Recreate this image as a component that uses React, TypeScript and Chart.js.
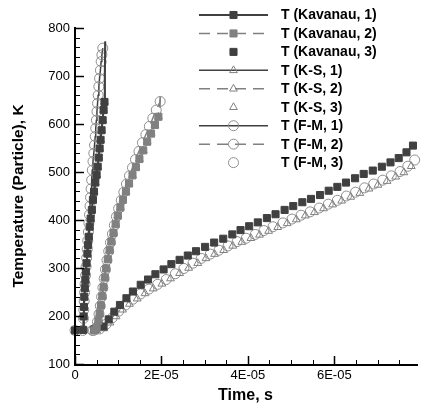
import React, { useEffect, useRef } from 'react';
import { Chart, registerables } from 'chart.js';

Chart.register(...registerables);

// ---- data (time in microseconds, temperature in K) ----
// Group 1 (fast)
const kav1Time = [0, 1.9, 2.0, 2.07, 2.15, 2.27, 2.4, 2.52, 2.68, 2.88, 3.03, 3.2, 3.4, 3.62, 3.9, 4.15, 4.4, 4.7, 5.0, 5.25, 5.5, 5.7, 5.92, 6.15, 6.4, 6.62, 6.82];
const kav1Temp = [170, 171, 199, 219, 240, 258, 275, 292, 310, 330, 348, 365, 386, 403, 421, 442, 459, 478, 494, 511, 530, 549, 567, 587, 608, 629, 646];
const kav1TailTime = [6.9, 7.0];
const kav1TailTemp = [705, 772];
const fm1Time = [0, 1.8, 1.95, 2.03, 2.12, 2.22, 2.33, 2.45, 2.57, 2.7, 2.82, 2.95, 3.1, 3.22, 3.35, 3.47, 3.6, 3.72, 3.85, 4.0, 4.16, 4.35, 4.52, 4.68, 4.8, 4.95, 5.08, 5.22, 5.36, 5.52, 5.68, 5.88, 6.05, 6.22, 6.43];
const fm1Temp = [170, 170, 195, 213, 231, 249, 267, 285, 303, 321, 339, 357, 375, 393, 411, 429, 447, 465, 483, 504, 522, 539, 556, 574, 591, 608, 626, 643, 660, 678, 695, 712, 730, 744, 758];

// Group 2 (medium)
const kav2Time = [4.5, 5.0, 5.4, 5.7, 6.0, 6.3, 6.6, 6.9, 7.2, 7.6, 8.0, 8.4, 8.9, 9.4, 9.9, 10.5, 11.1, 11.8, 12.5, 13.3, 14.1, 14.9, 15.8, 16.7, 17.6, 18.5, 19.3];
const kav2Temp = [170, 176, 190, 205, 222, 241, 260, 280, 299, 318, 337, 355, 373, 391, 409, 426, 442, 459, 476, 493, 510, 527, 545, 563, 580, 598, 615];
const kav2TailTime = [19.6, 19.75];
const kav2TailTemp = [636, 656];
const fm2Time = [4.3, 4.8, 5.2, 5.55, 5.85, 6.15, 6.45, 6.75, 7.05, 7.4, 7.8, 8.2, 8.65, 9.1, 9.6, 10.1, 10.7, 11.3, 11.9, 12.6, 13.3, 14.0, 14.8, 15.6, 16.4, 17.2, 18.0, 18.8, 19.7];
const fm2Temp = [170, 174, 188, 204, 221, 240, 259, 278, 297, 316, 335, 353, 371, 389, 407, 424, 441, 458, 475, 492, 509, 526, 543, 561, 578, 595, 612, 629, 647];

// Group 3 (slow)
const kav3Time = [4.5, 6.6, 7.8, 9.1, 10.4, 11.9, 13.4, 15.2, 16.9, 18.6, 20.5, 22.3, 24.2, 26.1, 28.0, 30.1, 32.2, 34.3, 36.4, 38.3, 40.3, 42.3, 44.4, 46.4, 48.5, 50.5, 52.6, 54.6, 56.7, 58.7, 60.7, 62.7, 64.8, 66.8, 68.9, 71.0, 73.0, 74.9, 76.7, 78.2];
const kav3Temp = [172, 178, 193, 209, 223, 237, 251, 265, 276, 287, 297, 308, 317, 326, 335, 344, 353, 361, 370, 379, 387, 395, 404, 412, 421, 429, 437, 444, 452, 461, 469, 478, 487, 496, 503, 511, 520, 529, 541, 555];
const ks3Time = [5.0, 6.7, 8.1, 9.5, 11.0, 12.6, 14.4, 16.2, 18.1, 20.1, 22.1, 24.2, 26.3, 28.4, 30.3, 32.3, 34.4, 36.5, 38.6, 40.7, 42.7, 44.8, 46.9, 49.1, 51.2, 53.3, 55.4, 57.5, 59.6, 61.7, 63.8, 65.9, 68.0, 70.1, 72.2, 74.2, 76.1, 77.8];
const ks3Temp = [170, 174, 186, 199, 213, 225, 236, 247, 257, 267, 278, 289, 300, 310, 320, 329, 337, 346, 354, 362, 369, 377, 385, 393, 401, 409, 416, 424, 432, 440, 448, 456, 465, 473, 481, 490, 499, 512];
const fm3Time = [4.0, 5.7, 7.2, 8.6, 10.1, 11.7, 13.4, 15.2, 17.1, 19.1, 21.1, 23.2, 25.2, 27.3, 29.2, 31.3, 33.3, 35.4, 37.5, 39.6, 41.7, 43.7, 45.8, 48.1, 50.2, 52.3, 54.4, 56.5, 58.6, 60.7, 62.8, 64.9, 67.0, 69.1, 71.2, 73.2, 75.2, 77.0, 78.6];
const fm3Temp = [170, 173, 183, 196, 210, 223, 235, 246, 256, 266, 276, 288, 299, 310, 320, 329, 337, 346, 355, 362, 370, 378, 386, 394, 402, 410, 417, 425, 433, 441, 450, 458, 467, 475, 483, 492, 501, 512, 525];

const seriesLabels = ['T (Kavanau, 1)', 'T (Kavanau, 2)', 'T (Kavanau, 3)', 'T (K-S, 1)', 'T (K-S, 2)', 'T (K-S, 3)', 'T (F-M, 1)', 'T (F-M, 2)', 'T (F-M, 3)'];

const xTickValues = [0, 20, 40, 60];
const xTickLabels = ['0', '2E-05', '4E-05', '6E-05'];
const X_MIN = 0, X_MAX = 78.9, X_MINOR = 5, X_MAJOR = 20;
const Y_MIN = 100, Y_MAX = 800, Y_MINOR = 20, Y_MAJOR = 100;

const DARK = '#404040';
const GRAY = '#808080';
const OPEN = '#8e8e8e';
const FONT = "'Liberation Sans', Arial, Helvetica, sans-serif";

const pts = (t: number[], v: number[]) => t.map((x, i) => ({ x, y: v[i] }));

const axesPlugin = {
  id: 'tecAxes',
  afterDatasetsDraw(chart: any) {
    const { ctx, chartArea, scales } = chart;
    const { left, right, top, bottom } = chartArea;
    const x = scales.x, y = scales.y;
    ctx.save();
    ctx.strokeStyle = '#000';
    for (let v = Y_MIN; v <= Y_MAX + 1e-9; v += Y_MINOR) {
      const py = Math.round(y.getPixelForValue(v)) + 0.5;
      const major = Math.abs((v - Y_MIN) % Y_MAJOR) < 1e-6;
      ctx.lineWidth = major ? 1.5 : 1;
      ctx.beginPath();
      ctx.moveTo(left, py);
      ctx.lineTo(left + (major ? 9 : 5), py);
      ctx.stroke();
    }
    for (let v = X_MIN; v <= X_MAX + 1e-9; v += X_MINOR) {
      const px = Math.round(x.getPixelForValue(v)) + 0.5;
      const major = Math.abs((v - X_MIN) % X_MAJOR) < 1e-6;
      ctx.lineWidth = major ? 1.5 : 1;
      ctx.beginPath();
      ctx.moveTo(px, bottom);
      ctx.lineTo(px, bottom - (major ? 8 : 4));
      ctx.stroke();
    }
    ctx.lineWidth = 2;
    ctx.beginPath();
    ctx.moveTo(left, top - 1);
    ctx.lineTo(left, bottom + 1);
    ctx.lineTo(right + 2, bottom + 1);
    ctx.stroke();
    ctx.restore();
  },
};

function drawMarker(ctx: CanvasRenderingContext2D, style: string, cx: number, cy: number, r: number, stroke: string, fill: string | null) {
  ctx.beginPath();
  if (style === 'rect') {
    const s = Math.SQRT1_2 * r;
    ctx.rect(cx - s, cy - s, 2 * s, 2 * s);
  } else if (style === 'triangle') {
    ctx.moveTo(cx, cy - r);
    ctx.lineTo(cx + r * 0.866, cy + r / 2);
    ctx.lineTo(cx - r * 0.866, cy + r / 2);
    ctx.closePath();
  } else {
    ctx.arc(cx, cy, r, 0, Math.PI * 2);
  }
  if (fill) {
    ctx.fillStyle = fill;
    ctx.fill();
  }
  ctx.strokeStyle = stroke;
  ctx.lineWidth = 1;
  ctx.stroke();
}

const legendPlugin = {
  id: 'tecLegend',
  afterDraw(chart: any) {
    const { ctx } = chart;
    const x0 = 199, x1 = 268, xm = 233.5, xt = 281, y0 = 15, dy = 18.45;
    ctx.save();
    chart.data.datasets.forEach((ds: any, i: number) => {
      const yy = y0 + i * dy;
      if (ds.showLine !== false) {
        ctx.save();
        ctx.strokeStyle = ds.borderColor;
        ctx.lineWidth = ds.borderWidth;
        ctx.setLineDash(ds.borderDash || []);
        ctx.beginPath();
        ctx.moveTo(x0, yy);
        ctx.lineTo(x1, yy);
        ctx.stroke();
        ctx.restore();
      }
      const fill = ds.pointStyle === 'rect' ? ds.pointBackgroundColor : null;
      drawMarker(ctx, ds.pointStyle, xm, yy, ds.legendRadius, ds.pointBorderColor, fill);
      ctx.fillStyle = '#000';
      ctx.font = `bold 14px ${FONT}`;
      ctx.textAlign = 'left';
      ctx.textBaseline = 'middle';
      ctx.fillText(ds.label, xt, yy + 0.5);
    });
    ctx.restore();
  },
};

export default function App() {
  const ref = useRef<HTMLCanvasElement | null>(null);

  useEffect(() => {
    if (!ref.current) return;
    const kav1Count = kav1Time.length;
    const kav2Count = kav2Time.length;
    const kav1All = pts(kav1Time.concat(kav1TailTime), kav1Temp.concat(kav1TailTemp));
    const kav2All = pts(kav2Time.concat(kav2TailTime), kav2Temp.concat(kav2TailTemp));

    const sq = (color: string, line: boolean, dash: number[], count: number | null, data: any[], label: string) => ({
      label, data, showLine: line, borderColor: color, borderWidth: line ? (dash.length ? 1.5 : 2) : 0, borderDash: dash,
      pointStyle: 'rect', pointBackgroundColor: color, pointBorderColor: color, pointBorderWidth: 1,
      pointRadius: count === null ? 5 : (c: any) => (c.dataIndex < count ? 5 : 0),
      legendRadius: 5, clip: false,
    });
    const open = (style: string, stroke: string, lineColor: string, line: boolean, dash: number[], r: number, count: number | null, data: any[], label: string) => ({
      label, data, showLine: line, borderColor: lineColor, borderWidth: line ? 1.5 : 0, borderDash: dash,
      pointStyle: style, pointBackgroundColor: 'rgba(0,0,0,0)', pointBorderColor: stroke, pointBorderWidth: 1,
      pointRadius: count === null ? r : (c: any) => (c.dataIndex < count ? r : 0),
      legendRadius: r, clip: false,
    });

    const datasets: any[] = [
      sq(DARK, true, [], kav1Count, kav1All, seriesLabels[0]),
      sq(GRAY, true, [11, 7], kav2Count, kav2All, seriesLabels[1]),
      sq(DARK, false, [], null, pts(kav3Time, kav3Temp), seriesLabels[2]),
      open('triangle', GRAY, DARK, true, [], 4.5, kav1Count, kav1All, seriesLabels[3]),
      open('triangle', GRAY, GRAY, true, [11, 7], 4.5, kav2Count, kav2All, seriesLabels[4]),
      open('triangle', GRAY, GRAY, false, [], 4.5, null, pts(ks3Time, ks3Temp), seriesLabels[5]),
      open('circle', OPEN, DARK, true, [], 5, null, pts(fm1Time, fm1Temp), seriesLabels[6]),
      open('circle', OPEN, GRAY, true, [11, 7], 5, null, pts(fm2Time, fm2Temp), seriesLabels[7]),
      open('circle', OPEN, GRAY, false, [], 5, null, pts(fm3Time, fm3Temp), seriesLabels[8]),
    ];

    const chart = new Chart(ref.current, {
      type: 'scatter',
      data: { datasets },
      options: {
        animation: false,
        responsive: true,
        maintainAspectRatio: false,
        layout: { padding: { top: 28, right: 0, left: 0, bottom: 0 } },
        elements: { line: { tension: 0 } },
        plugins: { legend: { display: false }, tooltip: { enabled: false } },
        scales: {
          x: {
            type: 'linear',
            min: X_MIN,
            max: X_MAX,
            grid: { display: false, drawTicks: false },
            border: { display: false },
            afterBuildTicks: (s: any) => { s.ticks = xTickValues.map((v) => ({ value: v })); },
            afterFit: (s: any) => { s.height = 45; },
            ticks: {
              autoSkip: false,
              maxRotation: 0,
              padding: 4,
              color: '#000',
              font: { family: FONT, size: 13 },
              callback: (v: any) => {
                const i = xTickValues.indexOf(Number(v));
                return i >= 0 ? xTickLabels[i] : '';
              },
            },
            title: {
              display: true,
              text: 'Time, s',
              color: '#000',
              font: { family: FONT, size: 16, weight: 'bold' },
              padding: { top: 0, bottom: 4 },
            },
          },
          y: {
            type: 'linear',
            min: Y_MIN,
            max: Y_MAX,
            grid: { display: false, drawTicks: false },
            border: { display: false },
            afterFit: (s: any) => { s.width = 75; },
            ticks: {
              stepSize: Y_MAJOR,
              padding: 5,
              color: '#000',
              font: { family: FONT, size: 13 },
            },
            title: {
              display: true,
              text: 'Temperature (Particle), K',
              color: '#000',
              font: { family: FONT, size: 15.5, weight: 'bold' },
              padding: { top: 9, bottom: 0 },
            },
          },
        },
      } as any,
      plugins: [axesPlugin, legendPlugin],
    });
    return () => chart.destroy();
  }, []);

  return (
    <div style={{ position: 'fixed', left: 0, top: 0, width: 422, height: 409, background: '#fff' }}>
      <canvas ref={ref} />
    </div>
  );
}
